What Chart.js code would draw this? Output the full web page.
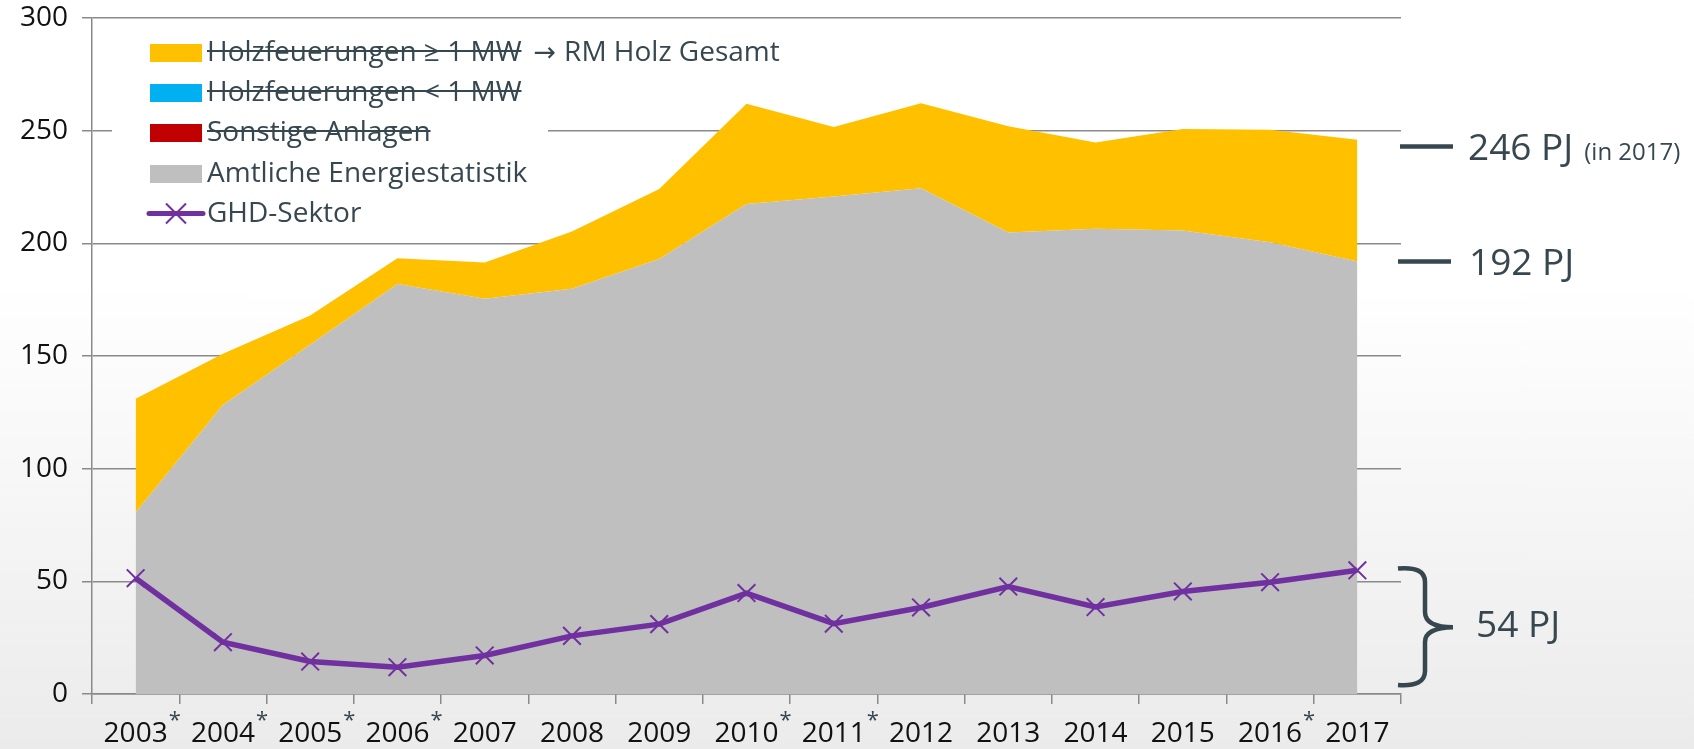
<!DOCTYPE html>
<html>
<head>
<meta charset="utf-8">
<script src="https://cdn.jsdelivr.net/npm/chart.js@4.4.1/dist/chart.umd.min.js"></script>
<style>
html,body{margin:0;padding:0;}
body{width:1694px;height:749px;overflow:hidden;position:relative;
  background:linear-gradient(to bottom,#ffffff 0%,#ffffff 38%,#ebebeb 100%);
  font-family:'Open Sans',sans-serif;}
#chart{position:absolute;left:0;top:0;}
#legend{position:absolute;left:112px;top:28px;width:436px;height:202px;background:#ffffff;}
.row{position:absolute;left:0;height:40px;line-height:40px;font-size:28px;color:#37474f;white-space:nowrap;}
.box{position:absolute;left:38px;width:52px;height:18px;top:14px;}
.txt{position:absolute;left:95px;top:0;}
.strike{text-decoration:line-through;text-decoration-thickness:2px;text-decoration-color:#37474f;}
.arrow{font-family:'DejaVu Sans',sans-serif;font-size:27px;margin:0 8px 0 12px;}
.ann{position:absolute;color:#37474f;white-space:nowrap;font-size:37px;line-height:37px;}
.ann small{font-size:24px;margin-left:11px;}
#shapes{position:absolute;left:0;top:0;}
</style>
</head>
<body>
<canvas id="chart" width="1694" height="749"></canvas>
<div id="legend"></div>
<div id="annotations"></div>
<svg id="shapes" width="1694" height="749"></svg>
<script>
// ---- data ----
const years = ['2003','2004','2005','2006','2007','2008','2009','2010','2011','2012','2013','2014','2015','2016','2017'];
const starredYears = ['2003','2004','2005','2006','2010','2011','2016'];
const holzGesamt = [131.0, 151.0, 168.0, 193.4, 191.5, 205.3, 224.1, 261.9, 251.6, 262.2, 252.0, 244.8, 250.7, 250.4, 246.0];
const amtliche   = [80.6, 128.3, 155.0, 182.0, 175.4, 179.8, 193.1, 217.5, 220.8, 224.5, 204.8, 206.5, 205.7, 200.5, 191.9];
const ghdSektor  = [51.4, 23.0, 14.4, 11.9, 17.1, 25.8, 31.0, 44.8, 31.2, 38.4, 47.7, 38.6, 45.5, 49.6, 54.9];
const legendNames = ['Holzfeuerungen ≥ 1 MW', 'Holzfeuerungen < 1 MW', 'Sonstige Anlagen', 'Amtliche Energiestatistik', 'GHD-Sektor'];
const legendColors = ['#ffc000', '#00b0f0', '#c00000', '#bfbfbf', '#7030a0'];
const legendStruck = [true, true, true, false, false];
const legendArrow = '→';
const legendSuffix = 'RM Holz Gesamt';
const annotationTexts = ['246 PJ', '(in 2017)', '192 PJ', '54 PJ'];

const SLATE = '#37474f';
const GRID = '#8a8a8a';

// ---- legend (HTML) ----
const legend = document.getElementById('legend');
legendNames.forEach((name, i) => {
  const row = document.createElement('div');
  row.className = 'row';
  row.style.top = (1.8 + i * 40.3) + 'px';
  if (i < 4) {
    const b = document.createElement('span');
    b.className = 'box';
    b.style.background = legendColors[i];
    row.appendChild(b);
  } else {
    const ns = 'http://www.w3.org/2000/svg';
    const s = document.createElementNS(ns, 'svg');
    s.setAttribute('width', '64'); s.setAttribute('height', '40');
    s.style.position = 'absolute'; s.style.left = '33px'; s.style.top = '0px';
    s.innerHTML = '<line x1="4" y1="22.5" x2="58" y2="22.5" stroke="#7030a0" stroke-width="5" stroke-linecap="round"/>' +
      '<line x1="21" y1="12.5" x2="41" y2="32.5" stroke="#7030a0" stroke-width="2"/>' +
      '<line x1="21" y1="32.5" x2="41" y2="12.5" stroke="#7030a0" stroke-width="2"/>';
    row.appendChild(s);
  }
  const t = document.createElement('span');
  t.className = 'txt';
  const main = document.createElement('span');
  main.textContent = name;
  if (legendStruck[i]) main.className = 'strike';
  t.appendChild(main);
  if (i === 0) {
    const ar = document.createElement('span');
    ar.className = 'arrow';
    ar.textContent = legendArrow;
    t.appendChild(ar);
    const suf = document.createElement('span');
    suf.textContent = legendSuffix;
    t.appendChild(suf);
  }
  row.appendChild(t);
  legend.appendChild(row);
});

// ---- annotations (HTML text) ----
const ann = document.getElementById('annotations');
function addAnn(html, left, top) {
  const d = document.createElement('div');
  d.className = 'ann';
  d.style.left = left + 'px';
  d.style.top = top + 'px';
  d.innerHTML = html;
  ann.appendChild(d);
}
addAnn(annotationTexts[0] + '<small>' + annotationTexts[1] + '</small>', 1468, 126.5);
addAnn(annotationTexts[2], 1469, 242);
addAnn(annotationTexts[3], 1476, 604);

// ---- dashes and brace (SVG shapes) ----
document.getElementById('shapes').innerHTML =
  '<line x1="1400" y1="146.5" x2="1453" y2="146.5" stroke="' + SLATE + '" stroke-width="4.5"/>' +
  '<line x1="1398" y1="261.5" x2="1451" y2="261.5" stroke="' + SLATE + '" stroke-width="4.5"/>' +
  '<path d="M1398,568.5 Q1425,566 1425,582 L1425,612 Q1425,627 1453,627.3 Q1425,628 1425,642 L1425,671 Q1425,687 1398,685" fill="none" stroke="' + SLATE + '" stroke-width="4.5"/>';

// ---- asterisk plugin for starred years ----
const X_FONT = 28;
const asteriskPlugin = {
  id: 'asterisks',
  afterDraw(chart) {
    const xs = chart.scales.x;
    const ctx = chart.ctx;
    ctx.save();
    years.forEach((y, i) => {
      if (!starredYears.includes(y)) return;
      ctx.font = X_FONT + 'px "Open Sans"';
      const w = ctx.measureText(y).width;
      const x = xs.getPixelForValue(i) + w / 2 + 1;
      ctx.font = '22px "Open Sans"';
      ctx.fillStyle = SLATE;
      ctx.textAlign = 'left';
      ctx.textBaseline = 'alphabetic';
      ctx.fillText('*', x, 727);
    });
    ctx.restore();
  }
};

new Chart(document.getElementById('chart'), {
  type: 'line',
  data: {
    labels: years,
    datasets: [
      {
        label: 'GHD-Sektor',
        data: ghdSektor,
        borderColor: '#7030a0',
        backgroundColor: '#7030a0',
        borderWidth: 5.5,
        pointStyle: 'crossRot',
        pointRadius: 12.5,
        pointBorderWidth: 2,
        pointBorderColor: '#7030a0',
        fill: false,
        tension: 0
      },
      {
        label: 'Amtliche Energiestatistik',
        data: amtliche,
        borderWidth: 0,
        borderColor: 'rgba(0,0,0,0)',
        backgroundColor: '#bfbfbf',
        pointRadius: 0,
        fill: 'origin',
        tension: 0
      },
      {
        label: 'RM Holz Gesamt',
        data: holzGesamt,
        borderWidth: 0,
        borderColor: 'rgba(0,0,0,0)',
        backgroundColor: '#ffc000',
        pointRadius: 0,
        fill: 1,
        tension: 0
      }
    ]
  },
  options: {
    responsive: false,
    devicePixelRatio: 1,
    animation: false,
    layout: { padding: { top: 18, right: 293, left: 0, bottom: 0 } },
    plugins: { legend: { display: false }, tooltip: { enabled: false } },
    scales: {
      x: {
        offset: true,
        grid: { offset: true, drawOnChartArea: false, drawTicks: true, tickLength: 10, color: GRID, lineWidth: 1.5 },
        border: { display: true, color: GRID, width: 1.5 },
        ticks: { color: '#111111', font: { family: 'Open Sans', size: X_FONT }, padding: 13, maxRotation: 0, autoSkip: false },
        afterFit(scale) { scale.height = 55; }
      },
      y: {
        min: 0, max: 300,
        ticks: { stepSize: 50, color: '#111111', font: { family: 'Open Sans', size: 28, lineHeight: 0.2 }, padding: 14 },
        grid: { color: GRID, lineWidth: 1.5, tickLength: 10 },
        border: { display: true, color: GRID, width: 1.5 },
        afterFit(scale) { scale.width = 92; }
      }
    }
  },
  plugins: [asteriskPlugin]
});
</script>
</body>
</html>
